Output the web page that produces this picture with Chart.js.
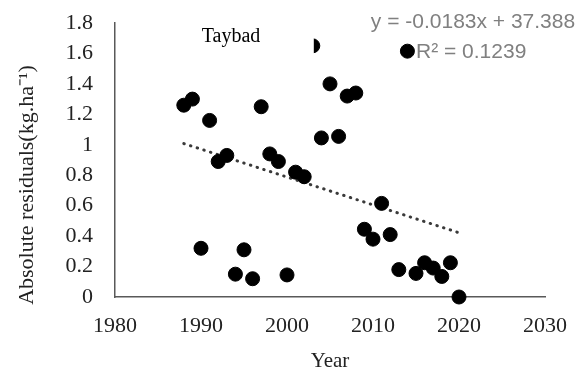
<!DOCTYPE html>
<html>
<head>
<meta charset="utf-8">
<script src="https://cdn.jsdelivr.net/npm/chart.js@4.4.0/dist/chart.umd.min.js"></script>
<style>
  html, body { margin: 0; padding: 0; background: #fff; }
  #wrap { width: 583px; height: 374px; }
</style>
</head>
<body>
<div id="wrap"><canvas id="residChart"></canvas></div>
<script>
// data
const years = [1988, 1989, 1990, 1991, 1992, 1993, 1994, 1995, 1996, 1997, 1998,
  1999, 2000, 2001, 2002, 2003, 2004, 2005, 2006, 2007, 2008, 2009, 2010, 2011,
  2012, 2013, 2014, 2015, 2016, 2017, 2018, 2019, 2020];
const residuals = [1.26, 1.30, 0.32, 1.16, 0.89, 0.93, 0.15, 0.31, 0.12, 1.25, 0.94,
  0.89, 0.145, 0.82, 0.79, 1.65, 1.045, 1.40, 1.055, 1.32, 1.34, 0.445, 0.38, 0.615,
  0.41, 0.18, 1.615, 0.155, 0.225, 0.19, 0.135, 0.225, 0.0];

// linear trend endpoints, y = -0.0183x + 37.388
const trendYears = [1988, 2020];
const trendValues = [1.008, 0.422];

const xTicks = [1980, 1990, 2000, 2010, 2020, 2030];
const yTicks = [0, 0.2, 0.4, 0.6, 0.8, 1, 1.2, 1.4, 1.6, 1.8];

const siteLabel = 'Taybad';
const equationText = 'y = -0.0183x + 37.388';
const r2Text = 'R² = 0.1239';
const yTitle = 'Absolute residuals(kg.ha⁻¹)';

const serif = '"Liberation Serif", "Times New Roman", serif';

const annotations = {
  id: 'annotations',
  afterDatasetsDraw(chart) {
    const ctx = chart.ctx;
    const x = chart.scales.x;
    ctx.save();
    // white label box that hides part of the 2003 point
    const edge = x.getPixelForValue(2003) + 1;
    ctx.fillStyle = '#fff';
    ctx.fillRect(185, 12, edge - 185, 46);
    ctx.fillStyle = '#000';
    ctx.font = '20px ' + serif;
    ctx.textAlign = 'center';
    ctx.textBaseline = 'middle';
    ctx.fillText(siteLabel, 231, 37);

    ctx.fillStyle = '#808080';
    ctx.font = '21px "Liberation Sans", Arial, sans-serif';
    ctx.fillText(equationText, 473, 22);
    ctx.textAlign = 'left';
    ctx.fillText(r2Text, 416, 52);

    // y axis title, set a bit below the plot centre as in the original
    ctx.translate(27, 185);
    ctx.rotate(-Math.PI / 2);
    ctx.textAlign = 'center';
    ctx.fillStyle = '#222';
    ctx.font = '22px ' + serif;
    ctx.fillText(yTitle, 0, 0);
    ctx.restore();
  }
};

new Chart(document.getElementById('residChart'), {
  type: 'scatter',
  data: {
    datasets: [{
      label: 'Residuals',
      data: years.map((yr, i) => ({ x: yr, y: residuals[i] })),
      backgroundColor: '#000',
      borderColor: '#000',
      pointRadius: 7,
      pointHoverRadius: 7,
      clip: false
    }, {
      type: 'line',
      label: 'Trend',
      data: trendYears.map((yr, i) => ({ x: yr, y: trendValues[i] })),
      borderColor: '#3a3a3a',
      borderWidth: 3,
      borderDash: [0.5, 6.5],
      borderCapStyle: 'round',
      pointRadius: 0,
      fill: false
    }]
  },
  options: {
    responsive: true,
    maintainAspectRatio: false,
    animation: false,
    layout: { padding: { top: 23, right: 35, left: 0, bottom: 0 } },
    plugins: {
      legend: { display: false },
      tooltip: { enabled: false }
    },
    scales: {
      x: {
        type: 'linear',
        min: 1980,
        max: 2030,
        afterBuildTicks: s => { s.ticks = xTicks.map(v => ({ value: v })); },
        afterFit: s => { s.height = 77; },
        grid: { display: false, drawTicks: false },
        border: { display: true, color: '#595959', width: 1.5 },
        ticks: {
          color: '#222',
          font: { family: serif, size: 22 },
          padding: 16,
          autoSkip: false,
          maxRotation: 0,
          callback: v => String(v)
        },
        title: {
          display: true,
          text: 'Year',
          color: '#222',
          font: { family: serif, size: 21 },
          padding: { top: 0, bottom: 0 }
        }
      },
      y: {
        min: 0,
        max: 1.8,
        afterBuildTicks: s => { s.ticks = yTicks.map(v => ({ value: v })); },
        afterFit: s => { s.width = 115; s.paddingTop = 0; s.paddingBottom = 0; },
        grid: { display: false, drawTicks: false },
        border: { display: true, color: '#595959', width: 1.5 },
        ticks: {
          color: '#222',
          font: { family: serif, size: 22 },
          padding: 22,
          autoSkip: false,
          callback: v => String(v)
        }
      }
    }
  },
  plugins: [annotations]
});
</script>
</body>
</html>
